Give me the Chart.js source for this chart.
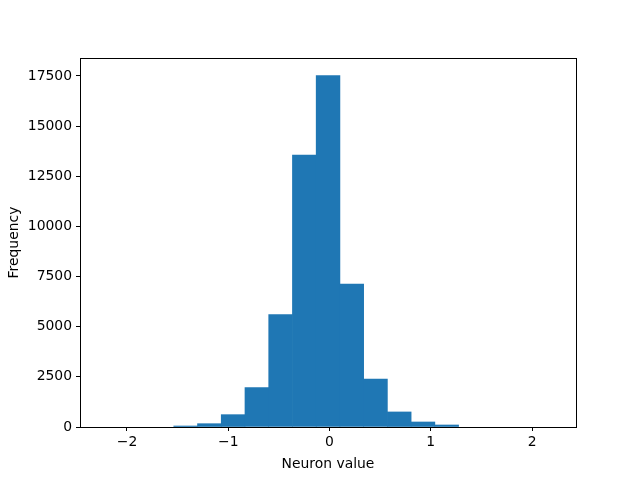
<!DOCTYPE html>
<html>
<head>
<meta charset="utf-8">
<script src="https://cdn.jsdelivr.net/npm/chart.js@4/dist/chart.umd.min.js"></script>
<style>
  html, body { margin: 0; padding: 0; background: #fff; }
  #wrap { width: 640px; height: 480px; }
</style>
</head>
<body>
<div id="wrap"><canvas id="histChart" width="640" height="480"></canvas></div>
<script>
// histogram bins: 19 equal bins between data min and max
const binLow = -2.241;
const binHigh = 2.212;
const counts = [0, 0, 0, 50, 165, 615, 1960, 5600, 13560, 17520, 7130, 2390, 750, 250, 100, 0, 0, 0, 0];
const xTicks = [-2, -1, 0, 1, 2];
const yTicks = [0, 2500, 5000, 7500, 10000, 12500, 15000, 17500];

const binWidth = (binHigh - binLow) / counts.length;
// empty bins are left out so no hairline is drawn for them
const points = counts.map(function (c, i) {
  return { x: binLow + binWidth * (i + 0.5), y: c > 0 ? c : null };
});

// draw the full box round the plot, like matplotlib
const frame = {
  id: "frame",
  afterDraw: function (chart) {
    const a = chart.chartArea;
    const ctx = chart.ctx;
    ctx.save();
    ctx.strokeStyle = "#000";
    ctx.lineWidth = 1;
    ctx.strokeRect(Math.round(a.left) + 0.5, Math.round(a.top) + 0.5,
      Math.round(a.right - a.left), Math.round(a.bottom - a.top));
    ctx.restore();
  }
};

const tickFont = { family: "DejaVu Sans", size: 13.9 };

var ctx = document.getElementById("histChart").getContext("2d");
var chart = new Chart(ctx, {
  type: "bar",
  data: {
    datasets: [{
      label: "Frequency",
      data: points,
      backgroundColor: "#1f77b4",
      borderWidth: 0,
      barPercentage: 1.0,
      categoryPercentage: 1.0,
    }],
  },
  options: {
    responsive: false,
    animation: false,
    layout: { padding: { left: 0, top: 58, right: 64, bottom: 0 } },
    plugins: {
      legend: { display: false },
      tooltip: { enabled: false },
    },
    scales: {
      x: {
        type: "linear",
        min: -2.464,
        max: 2.434,
        offset: false,
        afterBuildTicks: function (scale) {
          scale.ticks = xTicks.map(function (v) { return { value: v }; });
        },
        afterFit: function (scale) { scale.height = 53; },
        grid: { display: true, offset: false, drawOnChartArea: false, drawTicks: true, tickLength: 4, color: "#000" },
        border: { display: false },
        ticks: {
          color: "#000",
          font: tickFont,
          padding: 3,
          maxRotation: 0,
          callback: function (v) { return String(v).replace("-", "\u2212"); },
        },
        title: {
          display: true,
          text: "Neuron value",
          color: "#000",
          font: tickFont,
          padding: { top: 0, bottom: 7 },
        },
      },
      y: {
        min: 0,
        max: 18395,
        afterBuildTicks: function (scale) {
          scale.ticks = yTicks.map(function (v) { return { value: v }; });
        },
        afterFit: function (scale) { scale.width = 80; },
        grid: { display: true, drawOnChartArea: false, drawTicks: true, tickLength: 4, color: "#000" },
        border: { display: false },
        ticks: {
          color: "#000",
          font: tickFont,
          padding: 4,
          callback: function (v) { return String(v); },
        },
        title: {
          display: true,
          text: "Frequency",
          color: "#000",
          font: tickFont,
          padding: { top: 6, bottom: 0 },
        },
      },
    },
  },
  plugins: [frame],
});
</script>
</body>
</html>
